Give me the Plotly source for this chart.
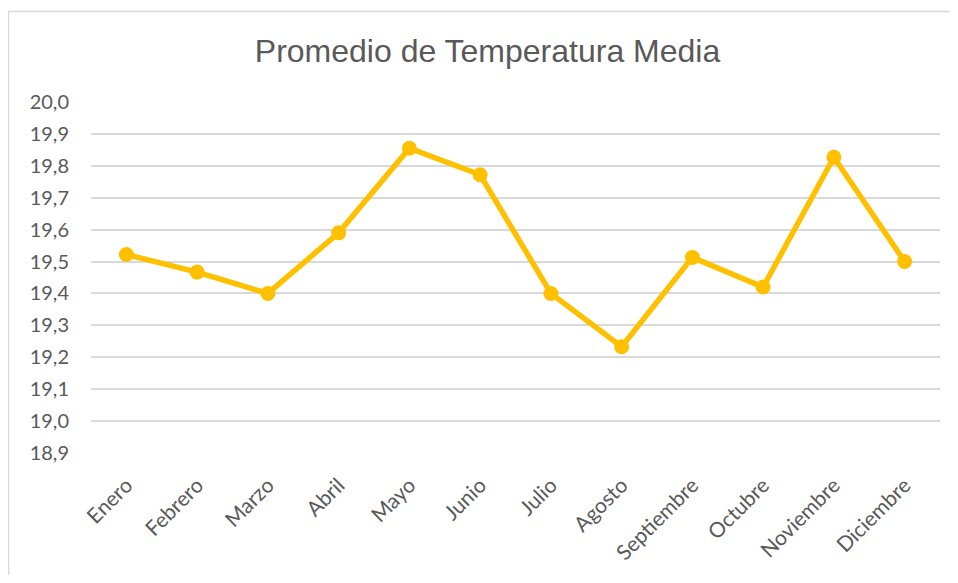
import plotly.graph_objects as go

meses = ["Enero", "Febrero", "Marzo", "Abril", "Mayo", "Junio", "Julio",
         "Agosto", "Septiembre", "Octubre", "Noviembre", "Diciembre"]
temperatura = [19.522, 19.467, 19.400, 19.590, 19.855, 19.772, 19.400,
               19.233, 19.513, 19.420, 19.827, 19.500]
y_min, y_max, y_step = 18.9, 20.0, 0.1

# page has an 8px body margin on every side; keep the figure inside the window
OFF = 8
W, H = 958 - 2 * OFF, 583 - 2 * OFF
L, T = 91 - OFF, 102 - OFF
R = W - (940 - OFF)
B = H - (453 - OFF)

fig = go.Figure(go.Scatter(
    x=meses, y=temperatura, mode="lines+markers",
    line=dict(color="#FFC000", width=5.5),
    marker=dict(color="#FFC000", size=15),
    hoverinfo="skip"
))

pw, ph = W - L - R, H - T - B
def px_x(p): return (p - OFF - L) / pw
def px_y(p): return (H - B - (p - OFF)) / ph

border = dict(color="#D9D9D9", width=1.5)
fig.update_layout(
    width=W, height=H,
    margin=dict(l=L, r=R, t=T, b=B),
    paper_bgcolor="white", plot_bgcolor="white",
    separators=",.",
    showlegend=False,
    title=dict(text="Promedio de Temperatura Media",
               font=dict(family="Liberation Sans, Arial", size=32, color="#595959"),
               x=(487.5 - OFF) / W, xanchor="center", y=1 - (51 - OFF) / H, yanchor="middle"),
    xaxis=dict(range=[-0.5, len(meses) - 0.5], showgrid=False, showline=False,
               ticks="", tickangle=-45,
               tickfont=dict(family="Lato, Noto Sans", size=21, color="#595959"),
               ticklabelstandoff=15, fixedrange=True),
    yaxis=dict(range=[y_min, y_max], dtick=y_step, tick0=y_min, tickformat=".1f",
               showgrid=True, gridcolor="#D9D9D9", gridwidth=1.5,
               zeroline=False, showline=False, ticks="",
               tickfont=dict(family="Lato, Noto Sans", size=20, color="#595959"),
               ticklabelstandoff=21, fixedrange=True),
    shapes=[
        dict(type="line", xref="paper", yref="paper",
             x0=px_x(8.5), x1=px_x(8.5), y0=px_y(11.5), y1=px_y(640), line=border),
        dict(type="line", xref="paper", yref="paper",
             x0=px_x(8.5), x1=px_x(1000), y0=px_y(11.5), y1=px_y(11.5), line=border),
    ]
)

fig.write_html("out.html")
